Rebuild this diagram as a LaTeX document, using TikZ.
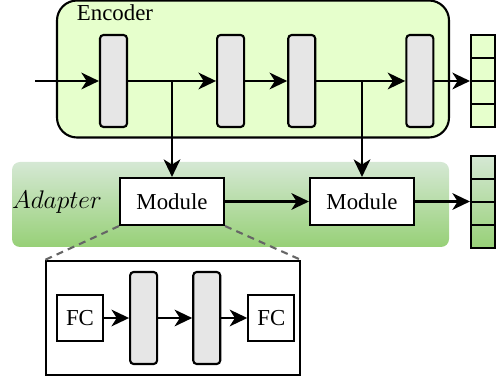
\RequirePackage{fix-cm}
\documentclass[tikz,border=0pt]{standalone}
\usepackage{fontspec}
\setmainfont{Liberation Serif}
\usetikzlibrary{positioning}
\usetikzlibrary{arrows.meta}
\definecolor{encfill}{HTML}{E6FFCC}
\definecolor{adtop}{HTML}{D5E8D4}
\definecolor{adbot}{HTML}{97D077}
\definecolor{layerfill}{HTML}{E6E6E6}
\tikzset{%
  flowarrow/.style = {-{Stealth[length=10pt,width=9.5pt,inset=3pt]},
        line width=1.3pt},
  layer/.style = {rectangle,rounded corners=2pt,draw,fill=layerfill,
        line width=1.2pt,minimum width=0.54cm,minimum height=1.84cm,
        inner sep=0pt},
  box/.style = {rectangle,draw,fill=white,line width=1.2pt,inner sep=0pt},
  cell/.style = {rectangle,draw,line width=1.2pt,minimum width=0.48cm,
        minimum height=0.46cm,inner sep=0pt},
  zoomline/.style = {dash pattern=on 4pt off 3pt,draw=black!60,
        line width=1.2pt}
}

\begin{document}
\begin{tikzpicture}[node distance=1.76cm and 1.76cm]
   \fontsize{13}{15}\selectfont
   \useasboundingbox (0,0) rectangle (10,-7.66);

   % encoder
   \node[box,rounded corners=0.4cm,fill=encfill,minimum width=7.84cm,
         minimum height=2.74cm] (encoder) at (5.06,-1.38) {};
   \node (enc-label) at (2.3,-0.25) {Encoder};
   \node[layer] (e1) at (2.27,-1.62) {};
   \node[layer] (e2) [right=1.76cm of e1] {};
   \node[layer] (e3) [right=0.84cm of e2] {};
   \node[layer] (e4) [right=1.78cm of e3] {};
   \coordinate (input) at (0.7,-1.62);
   \coordinate (split1) at (3.44,-1.62);
   \coordinate (split2) at (7.24,-1.62);
   \foreach \i in {1,...,4}
      \node[cell,fill=encfill] (out\i) at (9.66,{-0.93-0.46*(\i-1)}) {};

   % adapter
   \node[rectangle,rounded corners=0.16cm,top color=adtop,bottom color=adbot,
         minimum width=8.74cm,minimum height=1.7cm] (adapter) at (4.61,-4.09) {};
   \node[font=\fontsize{14.5}{17}\selectfont] (ad-label) at (1.14,-4.04) {$Adapter$};
   \node[box,minimum width=2.08cm,minimum height=0.94cm] (m1) at (3.44,-4.03) {Module};
   \node[box,minimum width=2.08cm,minimum height=0.94cm] (m2) at (7.24,-4.03) {Module};
   \foreach \i [evaluate=\i as \t using int(100-25*(\i-1)),
                evaluate=\i as \b using int(100-25*\i)] in {1,...,4}
      \node[cell,top color=adtop!\t!adbot,bottom color=adtop!\b!adbot]
         (aout\i) at (9.66,{-3.35-0.46*(\i-1)}) {};

   % module detail
   \node[box,minimum width=5.08cm,minimum height=2.28cm] (detail) at (3.46,-6.36) {};
   \draw[zoomline] (m1.south west) -- (detail.north west);
   \draw[zoomline] (m1.south east) -- (detail.north east);
   \node[box,minimum width=0.92cm,minimum height=0.92cm] (fc1) at (1.6,-6.36) {FC};
   \node[layer] (c1) [right=0.5cm of fc1] {};
   \node[layer] (c2) [right=0.68cm of c1] {};
   \node[box,minimum width=0.92cm,minimum height=0.92cm] (fc2) [right=0.52cm of c2] {FC};

   \draw[flowarrow] (input) -- (e1);
   \draw[flowarrow] (e1) -- (e2);
   \draw[flowarrow] (e2) -- (e3);
   \draw[flowarrow] (e3) -- (e4);
   \draw[flowarrow] (e4.east) -- (e4.east -| out2.west);
   \draw[flowarrow] (split1) -- (split1 |- m1.north);
   \draw[flowarrow] (split2) -- (split2 |- m2.north);
   \draw[flowarrow] (m1) -- (m2);
   \draw[flowarrow] (m2.east) -- (m2.east -| aout2.west);
   \draw[flowarrow] (fc1) -- (c1);
   \draw[flowarrow] (c1) -- (c2);
   \draw[flowarrow] (c2) -- (fc2);
\end{tikzpicture}
\end{document}
